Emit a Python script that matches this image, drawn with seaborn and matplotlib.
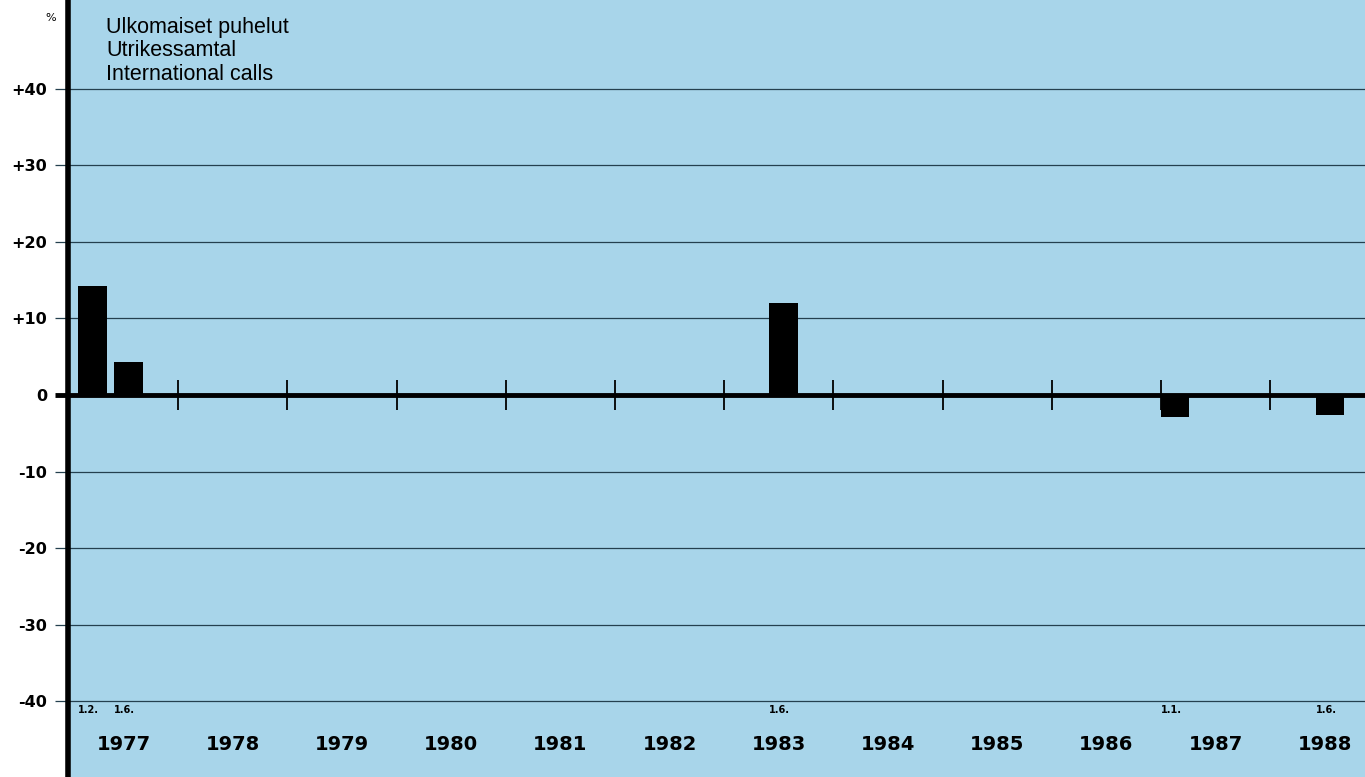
import numpy as np
import pandas as pd
import matplotlib
matplotlib.use("Agg")
import matplotlib.pyplot as plt
import seaborn as sns

# ------------------------------------------------------------
# Data (percent change in call tariffs)
# ------------------------------------------------------------
change_dates = ["1977-02-01", "1977-06-01", "1983-06-01", "1987-01-01", "1988-06-01"]
date_labels = ["1.2.", "1.6.", "1.6.", "1.1.", "1.6."]
change_pct = [14.2, 4.3, 12.0, -2.9, -2.6]
years = list(range(1977, 1989))
y_ticks = [40, 30, 20, 10, 0, -10, -20, -30, -40]
y_tick_labels = ["+40", "+30", "+20", "+10", "0", "-10", "-20", "-30", "-40"]
title_lines = ["Ulkomaiset puhelut", "Utrikessamtal", "International calls"]

BG = "#a8d5ea"
GRID = "#24404f"
BAR_YEARS = 0.26   # bar width, in years

sns.set_theme(style="white")
plt.rcParams["font.family"] = ["DejaVu Sans"]
plt.rcParams["text.color"] = "black"

# decimal year of each change; bars start at the date
dates = pd.to_datetime(change_dates)
dec_year = np.asarray(dates.year + (dates.dayofyear - 1) / 365.0)
df = pd.DataFrame({"t": dec_year + BAR_YEARS / 2, "pct": change_pct})
native = np.min(np.diff(np.unique(df["t"])))

fig = plt.figure(figsize=(13.65, 7.77), dpi=100, facecolor="white")
ax = fig.add_axes([67.5 / 1365, 0, 1 - 67.5 / 1365, 1])
ax.set_facecolor(BG)

sns.barplot(data=df, x="t", y="pct", native_scale=True, orient="x",
            width=BAR_YEARS / native, color="black", saturation=1,
            errorbar=None, linewidth=0, ax=ax, zorder=3)

# gridlines, zero line and year separators
for v in y_ticks:
    if v != 0:
        ax.axhline(v, color=GRID, lw=0.9, zorder=1)
ax.axhline(0, color="black", lw=3.5, zorder=4)
ax.vlines(years[1:], -2, 2, color="black", lw=1.3, zorder=4)

ax.set_xlim(1976.986, 1988.868)
ax.set_ylim(-49.9, 51.6)
ax.set_xticks([])
ax.set_xlabel("")
ax.set_ylabel("")
ax.set_yticks(y_ticks, y_tick_labels)
ax.tick_params(axis="y", length=9.5, width=0.9, color=GRID, pad=5,
               labelsize=11.5, labelcolor="black", direction="out", left=True)
for lab in ax.get_yticklabels():
    lab.set_fontweight("bold")
zero_tick = ax.yaxis.get_major_ticks()[y_ticks.index(0)]
zero_tick.tick1line.set_markeredgewidth(3.5)
zero_tick.tick1line.set_markeredgecolor("black")

for side in ["top", "right", "bottom"]:
    ax.spines[side].set_visible(False)
ax.spines["left"].set_linewidth(4)
ax.spines["left"].set_color("black")

# year labels and change dates
for y in years:
    ax.text(y + 0.5, -45.6, str(y), ha="center", va="center",
            fontsize=14, fontweight="bold")
for d, lab in zip(dec_year, date_labels):
    ax.text(d, -41.2, lab, ha="left", va="center", fontsize=7, fontweight="bold")

# title block and unit
for i, line in enumerate(title_lines):
    fig.text(106 / 1365, 1 - (27 + 23.5 * i) / 777, line, ha="left", va="center",
             fontsize=15.5, family=["Liberation Sans", "DejaVu Sans"])
fig.text(51 / 1365, 1 - 18 / 777, "%", ha="center", va="center", fontsize=8)

fig.savefig("out.png", dpi=100)
